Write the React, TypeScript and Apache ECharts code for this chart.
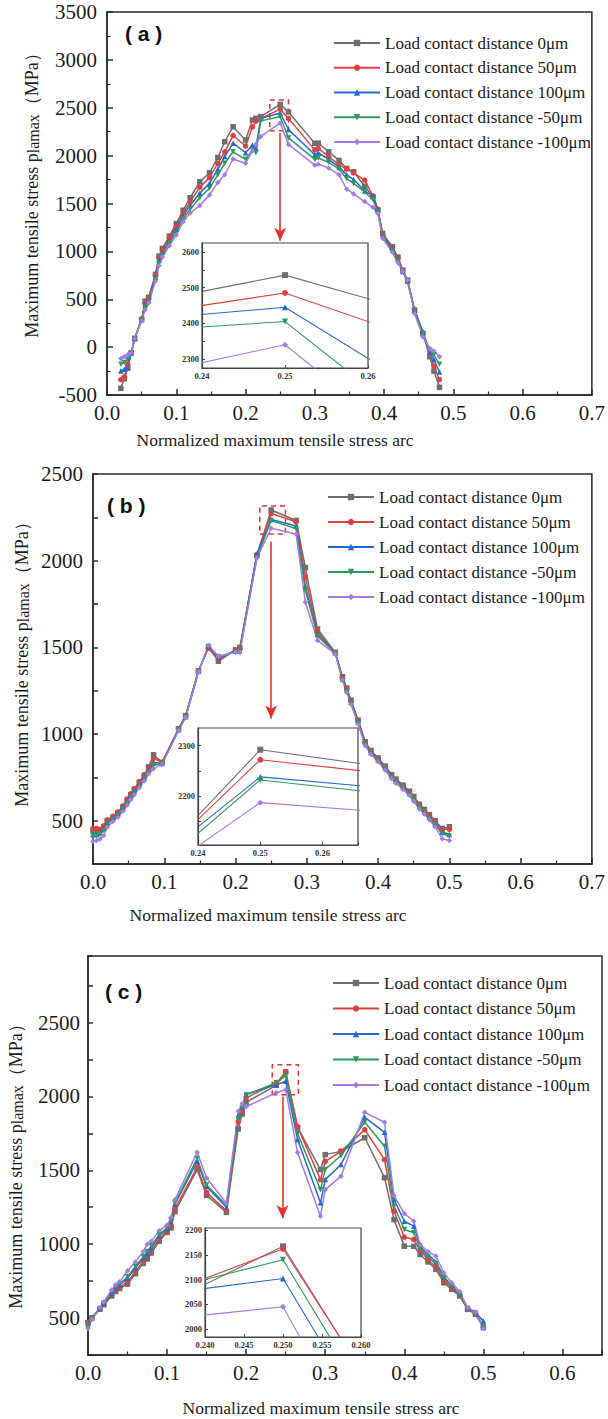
import React, { useEffect, useRef } from 'react';
import * as echarts from 'echarts';

const NAMES = [
  'Load contact distance 0μm',
  'Load contact distance 50μm',
  'Load contact distance 100μm',
  'Load contact distance -50μm',
  'Load contact distance -100μm',
];
const COLORS = ['#6e6e6e', '#e2403e', '#2468d2', '#2e9a5e', '#a57be4'];
const SYMBOLS = ['rect', 'circle', 'triangle', 'triangle', 'diamond'];
const ROTATE = [0, 0, 0, 180, 0];

// Panel (a)
const A_X = [0.02, 0.025, 0.03, 0.035, 0.04, 0.05, 0.055, 0.06, 0.07, 0.075, 0.08, 0.09, 0.1, 0.11, 0.12, 0.134, 0.148, 0.16, 0.17, 0.182, 0.2, 0.21, 0.215, 0.222, 0.25, 0.262, 0.3, 0.305, 0.32, 0.335, 0.346, 0.356, 0.372, 0.384, 0.391, 0.398, 0.412, 0.42, 0.427, 0.434, 0.444, 0.456, 0.466, 0.472, 0.48];
const A_0 = [-430, -330, -220, -60, 90, 290, 480, 520, 760, 950, 1030, 1160, 1290, 1430, 1560, 1727, 1821, 1980, 2145, 2302, 2163, 2372, 2390, 2407, 2535, 2456, 2128, 2130, 2040, 1950, 1866, 1831, 1680, 1570, 1431, 1187, 1048, 940, 804, 700, 386, 143, -100, -250, -420];
const A_50 = [-340, -310, -180, -60, 90, 290, 460, 505, 750, 935, 1015, 1145, 1260, 1400, 1520, 1670, 1770, 1920, 2040, 2210, 2100, 2300, 2360, 2387, 2485, 2389, 2060, 2075, 1990, 1905, 1860, 1820, 1745, 1580, 1440, 1170, 1040, 930, 800, 690, 390, 150, -70, -200, -340];
const A_100 = [-250, -230, -210, -60, 90, 285, 440, 490, 730, 910, 990, 1115, 1230, 1370, 1480, 1610, 1710, 1860, 1990, 2130, 2030, 2110, 2080, 2389, 2445, 2273, 2010, 2030, 1960, 1880, 1800, 1750, 1633, 1580, 1440, 1160, 1030, 920, 790, 690, 390, 160, -50, -130, -260];
const A_M50 = [-180, -160, -130, -60, 90, 280, 420, 470, 710, 880, 960, 1090, 1200, 1340, 1440, 1560, 1660, 1800, 1920, 2040, 1960, 2060, 2030, 2363, 2405, 2185, 1960, 1975, 1930, 1860, 1760, 1710, 1620, 1540, 1420, 1150, 1010, 905, 790, 680, 380, 140, -30, -80, -180];
const A_M100 = [-120, -100, -80, -60, 90, 275, 390, 460, 690, 850, 940, 1060, 1170, 1310, 1400, 1480, 1590, 1720, 1800, 1965, 1920, 2050, 2120, 2200, 2340, 2117, 1900, 1910, 1870, 1800, 1650, 1600, 1520, 1460, 1396, 1135, 990, 880, 790, 700, 352, 108, -14, -40, -100];

// Panel (b)
const B_X = [0, 0.005, 0.01, 0.015, 0.02, 0.028, 0.035, 0.042, 0.048, 0.053, 0.058, 0.065, 0.072, 0.078, 0.085, 0.097, 0.12, 0.13, 0.148, 0.162, 0.176, 0.2, 0.206, 0.23, 0.25, 0.285, 0.298, 0.315, 0.34, 0.35, 0.356, 0.362, 0.372, 0.382, 0.39, 0.4, 0.41, 0.419, 0.425, 0.435, 0.444, 0.45, 0.458, 0.465, 0.472, 0.48, 0.49, 0.5];
const B_0 = [440, 445, 445, 465, 500, 520, 545, 580, 620, 650, 680, 720, 760, 810, 880, 836, 1030, 1106, 1365, 1500, 1420, 1485, 1500, 2030, 2292, 2232, 1960, 1606, 1471, 1330, 1265, 1195, 1080, 955, 905, 862, 815, 765, 740, 705, 670, 640, 595, 565, 535, 500, 455, 465];
const B_50 = [455, 455, 450, 470, 505, 525, 550, 585, 625, 655, 685, 725, 765, 800, 860, 836, 1030, 1106, 1365, 1495, 1430, 1485, 1490, 2035, 2272, 2225, 1905, 1590, 1471, 1325, 1260, 1190, 1075, 950, 900, 858, 810, 760, 735, 700, 665, 635, 590, 560, 530, 495, 450, 450];
const B_100 = [420, 420, 430, 455, 490, 515, 540, 575, 612, 642, 672, 712, 752, 790, 835, 830, 1025, 1100, 1362, 1505, 1440, 1478, 1480, 2040, 2238, 2200, 1850, 1575, 1468, 1318, 1252, 1185, 1070, 945, 895, 852, 805, 755, 730, 694, 660, 628, 584, 553, 522, 484, 435, 420];
const B_M50 = [405, 410, 420, 445, 482, 508, 532, 568, 605, 635, 665, 705, 745, 780, 820, 828, 1022, 1098, 1360, 1505, 1445, 1475, 1475, 2020, 2232, 2185, 1830, 1565, 1466, 1315, 1248, 1180, 1065, 940, 890, 848, 800, 750, 725, 690, 655, 622, 578, 548, 516, 478, 425, 410];
const B_M100 = [380, 385, 394, 414, 462, 495, 520, 555, 590, 620, 650, 690, 730, 770, 800, 826, 1020, 1095, 1358, 1510, 1450, 1470, 1470, 2015, 2187, 2154, 1760, 1540, 1462, 1310, 1240, 1172, 1058, 932, 882, 840, 792, 742, 716, 680, 645, 612, 568, 538, 505, 465, 395, 385];

// Panel (c)
const C_X = [0, 0.005, 0.015, 0.02, 0.03, 0.035, 0.04, 0.05, 0.06, 0.07, 0.075, 0.08, 0.09, 0.1, 0.105, 0.11, 0.138, 0.15, 0.175, 0.19, 0.195, 0.2, 0.238, 0.25, 0.265, 0.294, 0.3, 0.32, 0.35, 0.375, 0.387, 0.4, 0.412, 0.42, 0.43, 0.44, 0.45, 0.46, 0.47, 0.48, 0.49, 0.5];
const C_0 = [470, 500, 560, 590, 650, 680, 700, 730, 800, 870, 900, 940, 1020, 1080, 1110, 1220, 1505, 1330, 1215, 1780, 1880, 1960, 2075, 2167, 1790, 1505, 1606, 1628, 1720, 1450, 1166, 986, 986, 930, 880, 829, 739, 694, 649, 559, 525, 435];
const C_50 = [460, 500, 560, 595, 660, 690, 710, 745, 815, 885, 915, 955, 1035, 1090, 1125, 1240, 1520, 1350, 1225, 1830, 1900, 1990, 2090, 2162, 1795, 1437, 1561, 1628, 1775, 1572, 1223, 1047, 1032, 960, 895, 845, 755, 705, 655, 565, 530, 440];
const C_100 = [455, 505, 565, 600, 670, 705, 725, 770, 840, 905, 935, 975, 1055, 1105, 1150, 1270, 1560, 1390, 1250, 1870, 1930, 2015, 2078, 2102, 1709, 1280, 1437, 1539, 1858, 1757, 1302, 1155, 1122, 985, 930, 880, 780, 720, 665, 570, 540, 480];
const C_M50 = [445, 500, 565, 600, 675, 710, 730, 780, 850, 915, 950, 990, 1065, 1110, 1160, 1280, 1580, 1400, 1265, 1850, 1920, 2010, 2092, 2140, 1750, 1368, 1505, 1600, 1825, 1662, 1257, 1099, 1077, 970, 915, 865, 770, 715, 660, 565, 535, 445];
const C_M100 = [430, 490, 570, 610, 690, 725, 745, 820, 880, 950, 1000, 1020, 1090, 1130, 1180, 1300, 1622, 1448, 1279, 1900, 1950, 1930, 2025, 2045, 1620, 1189, 1369, 1460, 1892, 1825, 1329, 1207, 1155, 997, 950, 919, 806, 739, 680, 570, 540, 430];

// Inset tick labels
const A_IN_YLABELS = [2300, 2400, 2500, 2600];
const A_IN_YTICKS = [2300, 2350, 2400, 2450, 2500, 2550, 2600];
const B_IN_YLABELS = [2200, 2300];
const B_IN_YTICKS = [2150, 2200, 2250, 2300];
const C_IN_YLABELS = [2000, 2050, 2100, 2150, 2200];
const C_IN_YTICKS = [2000, 2050, 2100, 2150, 2200];

const SERIF = 'Liberation Serif, serif';
const SANS = 'Liberation Sans, sans-serif';
const AX = '#2b2b2b';
const TXT = '#1c1c1c';
const RED = '#e8312f';
const X_TITLE = 'Normalized maximum tensile stress arc';
const Y_TITLE = 'Maximum tensile stress p{s|lamax}\uFF08MPa\uFF09';

const isMult = (v: number, step: number) => Math.abs(v / step - Math.round(v / step)) < 1e-6;

const mainGrid = (left: number, top: number, width: number, height: number) => ({
  left, top, width, height, containLabel: false, show: true,
  borderColor: AX, borderWidth: 1.5, backgroundColor: 'transparent',
});
const insetGrid = (left: number, top: number, width: number, height: number) => ({
  left, top, width, height, containLabel: false, show: true, z: 5,
  borderColor: '#444', borderWidth: 1.2, backgroundColor: '#ffffff',
});

const mainX = (gridIndex: number, max: number) => ({
  type: 'value', gridIndex, min: 0, max, interval: 0.1,
  axisLine: { show: true, onZero: false, lineStyle: { color: AX, width: 1.5 } },
  axisTick: { show: true, inside: true, length: 6, lineStyle: { color: AX, width: 1.5 } },
  minorTick: { show: true, splitNumber: 2, length: 3.5, lineStyle: { color: AX, width: 1.2 } },
  splitLine: { show: false },
  minorSplitLine: { show: false },
  axisLabel: {
    margin: 7, fontFamily: SERIF, fontSize: 21, color: TXT,
    formatter: (v: number) => (isMult(v, 0.1) ? v.toFixed(1) : ''),
  },
});

const mainY = (gridIndex: number, min: number, max: number, interval: number, minor: boolean, margin: number) => ({
  type: 'value', gridIndex, min, max, interval,
  axisLine: { show: true, onZero: false, lineStyle: { color: AX, width: 1.5 } },
  axisTick: { show: true, inside: true, length: minor ? 6 : 5, lineStyle: { color: AX, width: 1.5 } },
  minorTick: { show: minor, splitNumber: 2, length: 3.5, lineStyle: { color: AX, width: 1.2 } },
  splitLine: { show: false },
  minorSplitLine: { show: false },
  axisLabel: {
    margin, fontFamily: SERIF, fontSize: 21, color: TXT,
    formatter: (v: number) => (isMult(v, 500) ? String(Math.round(v)) : ''),
  },
});

const insetX = (gridIndex: number, min: number, max: number, interval: number, digits: number) => ({
  type: 'value', gridIndex, min, max, interval, z: 6,
  axisLine: { show: true, onZero: false, lineStyle: { color: '#444', width: 1.2 } },
  axisTick: { show: true, inside: true, length: 3, lineStyle: { color: '#444', width: 1 } },
  splitLine: { show: false },
  axisLabel: {
    margin: 3, fontFamily: SERIF, fontWeight: 'bold', fontSize: 8.5, color: '#333',
    formatter: (v: number) => (isMult(v, interval) ? v.toFixed(digits) : ''),
  },
});

const insetY = (gridIndex: number, min: number, max: number, labels: number[], ticks: number[]) => ({
  type: 'value', gridIndex, min, max, z: 6,
  axisLine: { show: true, onZero: false, lineStyle: { color: '#444', width: 1.2 } },
  axisTick: { show: true, inside: true, length: 3, customValues: ticks, lineStyle: { color: '#444', width: 1 } },
  splitLine: { show: false },
  axisLabel: {
    margin: 3, fontFamily: SERIF, fontWeight: 'bold', fontSize: 8.5, color: '#333',
    customValues: labels,
    formatter: (v: number) => String(Math.round(v)),
  },
});

type Ann = { rect: number[][]; arrow: number[][] };

function panelSeries(xs: number[], ys: number[][], mainAx: number, insetAx: number, ann: Ann) {
  const out: any[] = [];
  ys.forEach((vals, k) => {
    const data = xs.map((x, i) => [x, vals[i]]);
    const base = {
      type: 'line', name: NAMES[k], data, symbol: SYMBOLS[k], symbolRotate: ROTATE[k],
      color: COLORS[k], itemStyle: { color: COLORS[k] }, silent: true, animation: false,
      emphasis: { disabled: true },
    };
    const main: any = {
      ...base, xAxisIndex: mainAx, yAxisIndex: mainAx, symbolSize: 5.5, z: 2,
      lineStyle: { width: 1.5, color: COLORS[k] },
    };
    if (k === 0) {
      main.markArea = {
        silent: true,
        itemStyle: { color: 'rgba(0,0,0,0)', borderColor: RED, borderWidth: 1.5, borderType: [5, 4] },
        label: { show: false },
        data: [[{ coord: ann.rect[0] }, { coord: ann.rect[1] }]],
      };
      main.markLine = {
        silent: true, symbol: ['none', 'arrow'], symbolSize: [9, 13],
        lineStyle: { color: RED, width: 1.6, type: 'solid' },
        label: { show: false },
        data: [[{ coord: ann.arrow[0] }, { coord: ann.arrow[1] }]],
      };
    }
    out.push(main);
    out.push({
      ...base, xAxisIndex: insetAx, yAxisIndex: insetAx, symbolSize: 6, z: 7, clip: true,
      lineStyle: { width: 1.1, color: COLORS[k] },
    });
  });
  return out;
}

const legendFor = (left: number, top: number, gap: number) => ({
  data: NAMES, orient: 'vertical', left, top, itemGap: gap, itemWidth: 46, itemHeight: 8,
  padding: 0, selectedMode: false,
  textStyle: { fontFamily: SERIF, fontSize: 17, color: TXT, lineHeight: 20 },
});

const yTitle = (x: number, y: number) => ({
  type: 'text', x, y, rotation: Math.PI / 2, z: 20,
  style: {
    text: Y_TITLE, fontFamily: SERIF, fontSize: 18, fill: TXT, align: 'center', verticalAlign: 'middle',
    rich: { s: { fontFamily: SERIF, fontSize: 16, fill: TXT, verticalAlign: 'bottom' } },
  },
});
const xTitle = (x: number, y: number) => ({
  type: 'text', x, y, z: 20,
  style: { text: X_TITLE, fontFamily: SERIF, fontSize: 17.5, fill: TXT, align: 'center', verticalAlign: 'middle' },
});
const panelLabel = (x: number, y: number, t: string) => ({
  type: 'text', x, y, z: 20,
  style: { text: t, fontFamily: SANS, fontWeight: 'bold', fontSize: 21, fill: '#111', align: 'left', verticalAlign: 'middle' },
});

function buildOption() {
  return {
    animation: false,
    backgroundColor: '#ffffff',
    textStyle: { fontFamily: SERIF },
    grid: [
      mainGrid(107, 12, 488, 383),
      insetGrid(202, 243, 166, 125),
      mainGrid(93, 474, 505, 390),
      insetGrid(198, 728, 160, 117),
      mainGrid(88, 956, 514, 399),
      insetGrid(205, 1228, 156, 109),
    ],
    xAxis: [
      mainX(0, 0.7),
      insetX(1, 0.24, 0.26, 0.01, 2),
      mainX(2, 0.7),
      insetX(3, 0.24, 0.2657, 0.01, 2),
      mainX(4, 0.65),
      insetX(5, 0.24, 0.26, 0.005, 3),
    ],
    yAxis: [
      mainY(0, -500, 3500, 500, true, 10),
      insetY(1, 2275, 2625, A_IN_YLABELS, A_IN_YTICKS),
      mainY(2, 250, 2500, 250, false, 10),
      insetY(3, 2103, 2335, B_IN_YLABELS, B_IN_YTICKS),
      mainY(4, 250, 2950, 250, false, 8),
      insetY(5, 1984, 2204, C_IN_YLABELS, C_IN_YTICKS),
    ],
    legend: [legendFor(333, 33, 4.75), legendFor(327, 487, 5), legendFor(332, 973, 5.5)],
    series: [
      ...panelSeries(A_X, [A_0, A_50, A_100, A_M50, A_M100], 0, 1, {
        rect: [[0.235, 2260], [0.262, 2580]], arrow: [[0.25, 2236], [0.25, 1110]],
      }),
      ...panelSeries(B_X, [B_0, B_50, B_100, B_M50, B_M100], 2, 3, {
        rect: [[0.234, 2154], [0.27, 2315]], arrow: [[0.25, 2110], [0.25, 1090]],
      }),
      ...panelSeries(C_X, [C_0, C_50, C_100, C_M50, C_M100], 4, 5, {
        rect: [[0.233, 2011], [0.266, 2214]], arrow: [[0.246, 2000], [0.246, 1175]],
      }),
    ],
    graphic: [
      panelLabel(125, 33, '( a )'),
      panelLabel(107, 505, '( b )'),
      panelLabel(105, 991, '( c )'),
      yTitle(32, 191),
      yTitle(22, 660),
      yTitle(16, 1162),
      xTitle(275, 440),
      xTitle(268, 915),
      xTitle(321, 1408),
    ],
  };
}

export default function App() {
  const ref = useRef<HTMLDivElement | null>(null);
  useEffect(() => {
    if (!ref.current) return;
    const chart = echarts.init(ref.current, null, { renderer: 'svg' });
    chart.setOption(buildOption() as any);
    return () => chart.dispose();
  }, []);
  return (
    <div
      ref={ref}
      style={{ position: 'absolute', left: 0, top: 0, width: 608, height: 1419, background: '#fff' }}
    />
  );
}
